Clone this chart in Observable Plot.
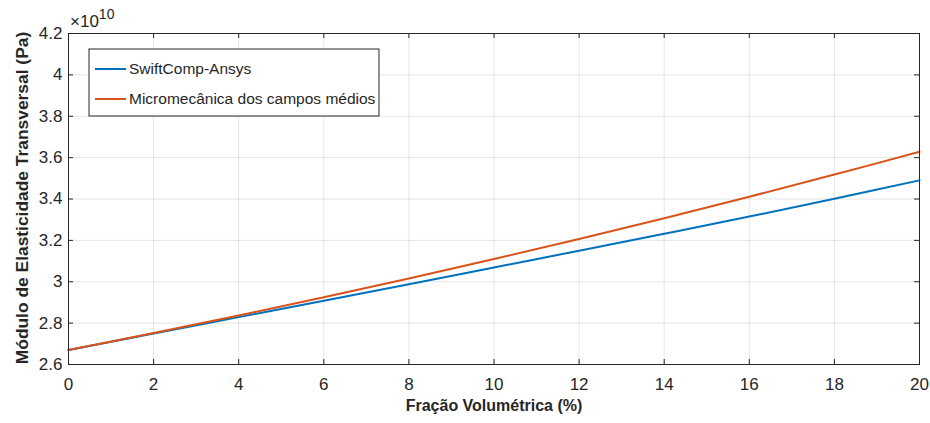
<!DOCTYPE html>
<html><head><meta charset="utf-8">
<script src="https://cdn.jsdelivr.net/npm/d3@7"></script>
<script src="https://cdn.jsdelivr.net/npm/@observablehq/plot@0.6"></script>
<style>body{margin:0;background:#fff;} #chart{position:relative;width:930px;height:423px;}</style>
</head><body><div id="chart"></div>
<script>
// Data (values in units of 1e10 Pa)
const fracao = [0, 2, 4, 6, 8, 10, 12, 14, 16, 18, 20];
const swiftComp = [2.670, 2.750, 2.829, 2.908, 2.988, 3.069, 3.150, 3.232, 3.315, 3.401, 3.490];
const micromec  = [2.670, 2.752, 2.837, 2.925, 3.016, 3.110, 3.207, 3.307, 3.411, 3.518, 3.628];
const seriesNames = ["SwiftComp-Ansys", "Micromecânica dos campos médios"];
const seriesColors = ["#0072BD", "#D95319"];
const xTicks = [0, 2, 4, 6, 8, 10, 12, 14, 16, 18, 20];
const yTicks = [2.6, 2.8, 3.0, 3.2, 3.4, 3.6, 3.8, 4.0, 4.2];
const xLabel = "Fração Volumétrica (%)";
const yLabel = "Módulo de Elasticidade Transversal (Pa)";

const rows = [];
fracao.forEach((x, i) => {
  rows.push({x, y: swiftComp[i], s: seriesNames[0]});
});
fracao.forEach((x, i) => {
  rows.push({x, y: micromec[i], s: seriesNames[1]});
});

const W = 930, H = 423, mL = 68, mR = 11, mT = 33, mB = 59;
const plotH = H - mT - mB, plotW = W - mL - mR;
const ink = "#262626";
const font = "'Liberation Sans', Arial, sans-serif";

const plot = Plot.plot({
  width: W, height: H,
  marginLeft: mL, marginRight: mR, marginTop: mT, marginBottom: mB,
  style: {fontFamily: font, fontSize: "17px", color: ink, background: "white", overflow: "visible"},
  x: {domain: [0, 20], label: null},
  y: {domain: [2.6, 4.2], label: null},
  color: {domain: seriesNames, range: seriesColors},
  marks: [
    Plot.gridX(xTicks, {stroke: "#000", strokeOpacity: 0.1}),
    Plot.gridY(yTicks, {stroke: "#000", strokeOpacity: 0.1}),
    Plot.line(rows, {x: "x", y: "y", z: "s", stroke: "s", curve: "catmull-rom", strokeWidth: 2}),
    Plot.frame({stroke: ink}),
    Plot.ruleX(xTicks, {insetTop: plotH - 5, stroke: ink}),
    Plot.ruleX(xTicks, {insetBottom: plotH - 5, stroke: ink}),
    Plot.ruleY(yTicks, {insetRight: plotW - 5, stroke: ink}),
    Plot.ruleY(yTicks, {insetLeft: plotW - 5, stroke: ink}),
    Plot.axisX(xTicks, {tickSize: 0, tickPadding: 13, label: null, fill: ink, fontSize: 17}),
    Plot.axisY(yTicks, {tickSize: 0, tickPadding: 6, label: null, fill: ink, fontSize: 17,
      tickFormat: d => String(Math.round(d * 10) / 10)}),
    Plot.text([yLabel], {frameAnchor: "left", textAnchor: "middle", rotate: -90, dx: -46, dy: -1, fontWeight: "bold", fontSize: 17.4, fill: ink}),
    Plot.text([xLabel], {frameAnchor: "bottom", textAnchor: "middle", dy: 46, fontWeight: "bold", fontSize: 16, fill: ink})
  ]
});
document.getElementById("chart").appendChild(plot);

const svg = d3.select(plot);
// exponent label
const ex = svg.append("text").attr("x", mL + 2).attr("y", mT - 6).attr("text-anchor", "start")
  .attr("fill", ink).style("font-family", font).style("font-size", "17px");
ex.append("tspan").text("×10");
ex.append("tspan").attr("dy", -8).style("font-size", "14px").text("10");

// legend
const lg = svg.append("g").attr("text-anchor", "start");
lg.append("rect").attr("x", 89).attr("y", 49).attr("width", 290).attr("height", 67)
  .attr("fill", "white").attr("stroke", ink).attr("stroke-width", 1);
seriesNames.forEach((name, i) => {
  const cy = 69 + i * 30;
  lg.append("line").attr("x1", 95).attr("x2", 126).attr("y1", cy).attr("y2", cy)
    .attr("stroke", seriesColors[i]).attr("stroke-width", 2);
  lg.append("text").attr("x", 129).attr("y", cy).attr("dy", "0.35em").attr("text-anchor", "start")
    .attr("fill", ink).style("font-family", font).style("font-size", "15.5px").text(name);
});
</script>
</body></html>
